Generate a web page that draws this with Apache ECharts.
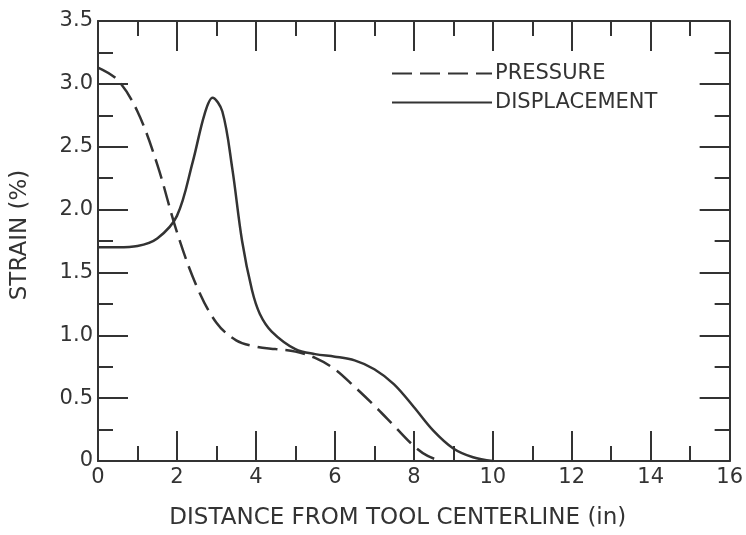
<!DOCTYPE html>
<html>
<head>
<meta charset="utf-8">
<script src="https://cdn.jsdelivr.net/npm/echarts@6/dist/echarts.min.js"></script>
<style>
html,body{margin:0;padding:0;background:#fff;}
#chart{width:746px;height:535px;}
</style>
</head>
<body>
<div id="chart"></div>
<script>
// Data
const pressureX = [0, 0.5, 1.0, 1.5, 2.0, 2.5, 3.0, 3.5, 4.0, 4.5, 5.0, 5.5, 6.0, 6.5, 7.0, 7.5, 8.0, 8.35, 8.7];
const pressureY = [3.13, 3.03, 2.78, 2.36, 1.82, 1.39, 1.10, 0.96, 0.91, 0.89, 0.87, 0.82, 0.73, 0.59, 0.44, 0.28, 0.12, 0.04, 0];

const displacementX = [0, 0.5, 1.0, 1.5, 2.0, 2.4, 2.7, 2.9, 3.15, 3.4, 3.65, 3.9, 4.1, 4.4, 5.0, 5.5, 6.0, 6.5, 7.0, 7.5, 8.0, 8.5, 9.0, 9.5, 10.0];
const displacementY = [1.70, 1.70, 1.71, 1.77, 1.95, 2.38, 2.76, 2.89, 2.78, 2.33, 1.75, 1.36, 1.17, 1.03, 0.89, 0.85, 0.83, 0.80, 0.73, 0.61, 0.43, 0.24, 0.10, 0.03, 0];

const xTicks = [0, 2, 4, 6, 8, 10, 12, 14, 16];
const yTicks = [0, 0.5, 1.0, 1.5, 2.0, 2.5, 3.0, 3.5];
const seriesNames = ['PRESSURE', 'DISPLACEMENT'];
const xTitle = 'DISTANCE FROM TOOL CENTERLINE (in)';
const yTitle = 'STRAIN (%)';

const ink = '#333333';
const font = 'DejaVu Sans';

function pairs(xs, ys) { return xs.map((x, i) => [x, ys[i]]); }

function yLabel(v) {
  if (v === 0) return '0';
  return v.toFixed(1);
}

const chart = echarts.init(document.getElementById('chart'));
const commonTick = { show: true, inside: true, length: 30, lineStyle: { color: ink, width: 2 } };
const commonMinor = { show: true, splitNumber: 2, length: 15, lineStyle: { color: ink, width: 2 } };

chart.setOption({
  animation: false,
  backgroundColor: '#fff',
  grid: { left: 98, right: 10, top: 21, bottom: 73, containLabel: false },
  legend: {
    orient: 'vertical',
    left: 386,
    top: 58,
    itemWidth: 100,
    itemHeight: 14,
    itemGap: 8,
    data: seriesNames,
    itemStyle: { opacity: 0 },
    textStyle: { fontFamily: font, fontSize: 21, color: ink, padding: [0, 0, 0, -2] }
  },
  xAxis: [{
    type: 'value', min: 0, max: 16, interval: 2, position: 'bottom',
    axisLine: { show: true, lineStyle: { color: ink, width: 2 } },
    axisTick: commonTick,
    minorTick: commonMinor,
    splitLine: { show: false },
    axisLabel: { fontFamily: font, fontSize: 21, color: ink, margin: 6,
      formatter: v => xTicks.indexOf(v) >= 0 ? String(v) : '' },
    name: xTitle, nameLocation: 'middle', nameGap: 46,
    nameTextStyle: { fontFamily: font, fontSize: 23, color: ink, padding: [0, 32, 0, 0] }
  }, {
    type: 'value', min: 0, max: 16, interval: 2, position: 'top',
    axisLine: { show: true, onZero: false, lineStyle: { color: ink, width: 2 } },
    axisTick: commonTick,
    minorTick: commonMinor,
    splitLine: { show: false },
    axisLabel: { show: false }
  }],
  yAxis: [{
    type: 'value', min: 0, max: 3.5, interval: 0.5, position: 'left',
    axisLine: { show: true, lineStyle: { color: ink, width: 2 } },
    axisTick: commonTick,
    minorTick: commonMinor,
    splitLine: { show: false },
    axisLabel: { fontFamily: font, fontSize: 21, color: ink, margin: 5, formatter: yLabel },
    name: yTitle, nameLocation: 'middle', nameGap: 66, nameRotate: 90,
    nameTextStyle: { fontFamily: font, fontSize: 23, color: ink, padding: [0, 0, 0, 12] }
  }, {
    type: 'value', min: 0, max: 3.5, interval: 0.5, position: 'right',
    axisLine: { show: true, onZero: false, lineStyle: { color: ink, width: 2 } },
    axisTick: commonTick,
    minorTick: commonMinor,
    splitLine: { show: false },
    axisLabel: { show: false }
  }],
  series: [{
    name: seriesNames[0], type: 'line', smooth: 0.35, symbol: 'none',
    xAxisIndex: 0, yAxisIndex: 0,
    lineStyle: { color: ink, width: 2.5, type: [20, 8] },
    itemStyle: { color: ink },
    data: pairs(pressureX, pressureY)
  }, {
    name: seriesNames[1], type: 'line', smooth: 0.35, symbol: 'none',
    xAxisIndex: 0, yAxisIndex: 0,
    lineStyle: { color: ink, width: 2.5, type: 'solid' },
    itemStyle: { color: ink },
    data: pairs(displacementX, displacementY)
  }]
});
</script>
</body>
</html>
